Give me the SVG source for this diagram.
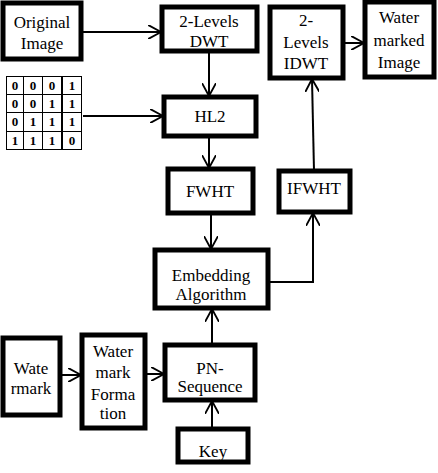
<svg xmlns="http://www.w3.org/2000/svg" width="438" height="473" viewBox="0 0 438 473" font-family="Liberation Serif, DejaVu Serif, serif">
<style>
.box{fill:#fff;stroke:#000;stroke-width:5}
.t{font-size:17px;fill:#000;text-anchor:middle}
.m{font-size:13px;font-weight:bold;fill:#000;text-anchor:middle}
.c{fill:none;stroke:#000;stroke-width:2}
.g{stroke:#000;stroke-width:1;fill:none}
</style>
<defs>
<marker id="ah" markerUnits="userSpaceOnUse" markerWidth="14" markerHeight="14" refX="11" refY="6" orient="auto" viewBox="0 0 12 12">
<path d="M0,0 L11,6 L0,12" fill="none" stroke="#000" stroke-width="1.6"/>
</marker>
</defs>
<rect width="438" height="473" fill="#fff"/>
<g id="connectors">
<line class="c" x1="81" y1="32" x2="161" y2="32" marker-end="url(#ah)"/>
<line class="c" x1="83" y1="116" x2="163" y2="116" marker-end="url(#ah)"/>
<line class="c" x1="209" y1="51" x2="209" y2="96" marker-end="url(#ah)"/>
<line class="c" x1="209" y1="136" x2="209" y2="168" marker-end="url(#ah)"/>
<line class="c" x1="211" y1="213" x2="211" y2="249" marker-end="url(#ah)"/>
<polyline class="c" points="268,282 313,282 313,213" marker-end="url(#ah)"/>
<line class="c" x1="314" y1="171" x2="312" y2="79" marker-end="url(#ah)"/>
<line class="c" x1="343" y1="43" x2="364" y2="43" marker-end="url(#ah)"/>
<line class="c" x1="60" y1="375" x2="81" y2="375" marker-end="url(#ah)"/>
<line class="c" x1="145" y1="374" x2="164" y2="374" marker-end="url(#ah)"/>
<line class="c" x1="212" y1="345" x2="212" y2="309" marker-end="url(#ah)"/>
<line class="c" x1="212" y1="429" x2="212" y2="401" marker-end="url(#ah)"/>
</g>
<g id="original">
<rect class="box" x="3" y="3" width="78" height="56"/>
<text class="t" x="42" y="28" font-family="Liberation Serif">Original</text>
<text class="t" x="42" y="49">Image</text>
</g>
<g id="dwt">
<rect class="box" x="162" y="7" width="95" height="44"/>
<text class="t" x="209" y="27">2-Levels</text>
<text class="t" x="209" y="47">DWT</text>
</g>
<g id="matrix">
<rect class="g" x="6.5" y="76.5" width="75" height="73"/>
<line class="g" x1="23.5" y1="76" x2="23.5" y2="150"/>
<line class="g" x1="42.5" y1="76" x2="42.5" y2="150"/>
<line x1="62" y1="76" x2="62" y2="150" stroke="#000" stroke-width="2"/>
<line class="g" x1="6" y1="94.5" x2="82" y2="94.5"/>
<line class="g" x1="6" y1="112.5" x2="82" y2="112.5"/>
<line class="g" x1="6" y1="131.5" x2="82" y2="131.5"/>
<text class="m" x="15" y="90">0</text><text class="m" x="33" y="90">0</text><text class="m" x="52" y="90">0</text><text class="m" x="72" y="90">1</text>
<text class="m" x="15" y="108">0</text><text class="m" x="33" y="108">0</text><text class="m" x="52" y="108">1</text><text class="m" x="72" y="108">1</text>
<text class="m" x="15" y="126">0</text><text class="m" x="33" y="126">1</text><text class="m" x="52" y="126">1</text><text class="m" x="72" y="126">1</text>
<text class="m" x="15" y="145">1</text><text class="m" x="33" y="145">1</text><text class="m" x="52" y="145">1</text><text class="m" x="72" y="145">0</text>
</g>
<g id="hl2">
<rect class="box" x="164" y="97" width="92" height="39"/>
<text class="t" x="210" y="122">HL2</text>
</g>
<g id="fwht">
<rect class="box" x="168" y="169" width="85" height="44"/>
<text class="t" x="210" y="197">FWHT</text>
</g>
<g id="embedding">
<rect class="box" x="155" y="250" width="113" height="58"/>
<text class="t" x="211" y="281">Embedding</text>
<text class="t" x="211" y="300">Algorithm</text>
</g>
<g id="ifwht">
<rect class="box" x="279" y="171" width="71" height="41"/>
<text class="t" x="314" y="194">IFWHT</text>
</g>
<g id="idwt">
<rect class="box" x="270" y="7" width="73" height="71"/>
<text class="t" x="306" y="26">2-</text>
<text class="t" x="306" y="48">Levels</text>
<text class="t" x="306" y="69">IDWT</text>
</g>
<g id="watermarked">
<rect class="box" x="365" y="2" width="69" height="75"/>
<text class="t" x="399" y="23">Water</text>
<text class="t" x="399" y="46">marked</text>
<text class="t" x="399" y="68">Image</text>
</g>
<g id="watermark">
<rect class="box" x="3" y="338" width="57" height="77"/>
<text class="t" x="31" y="374">Wate</text>
<text class="t" x="31" y="394">rmark</text>
</g>
<g id="formation">
<rect class="box" x="82" y="335" width="63" height="93"/>
<text class="t" x="113" y="357">Water</text>
<text class="t" x="113" y="378">mark</text>
<text class="t" x="113" y="400">Forma</text>
<text class="t" x="113" y="419">tion</text>
</g>
<g id="pn">
<rect class="box" x="165" y="345" width="90" height="55"/>
<text class="t" x="210" y="374">PN-</text>
<text class="t" x="210" y="392">Sequence</text>
</g>
<g id="key">
<rect class="box" x="178" y="429" width="70" height="33"/>
<text class="t" x="213" y="457">Key</text>
</g>
</svg>
